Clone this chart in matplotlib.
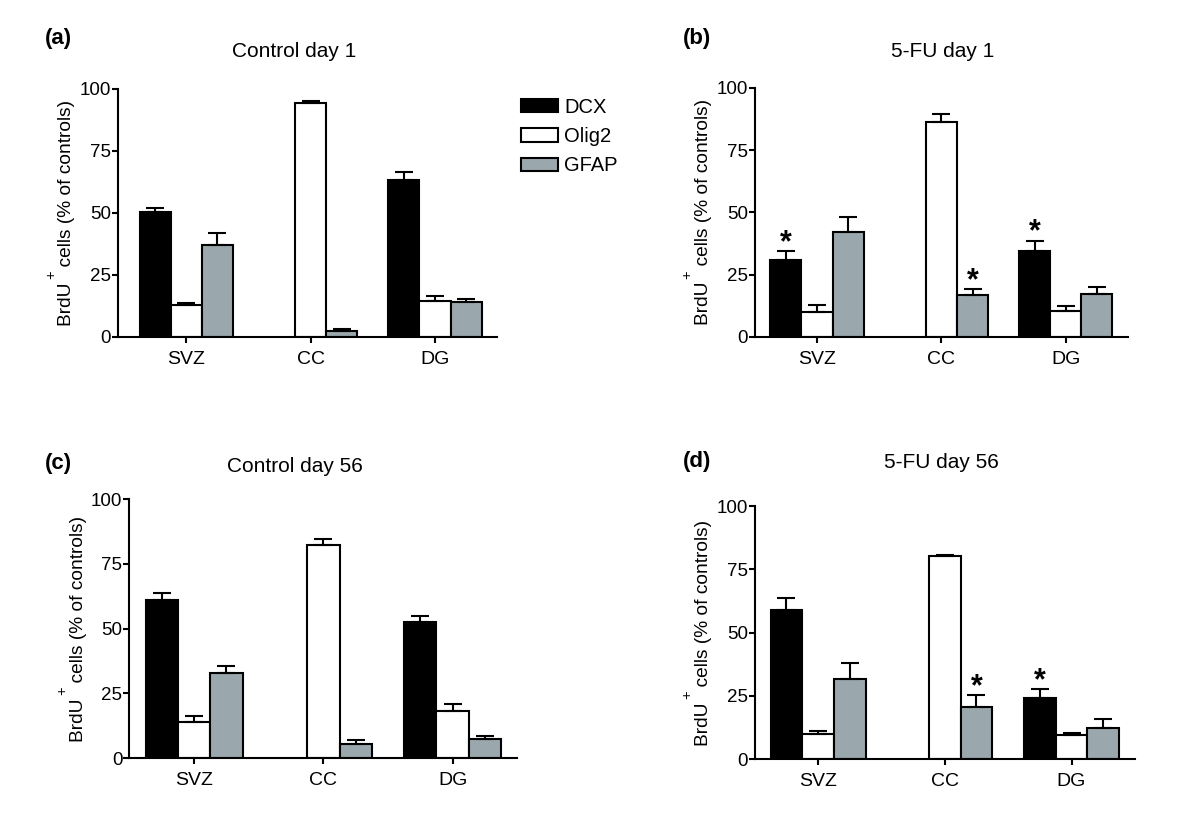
import numpy as np
import matplotlib
matplotlib.use("Agg")
import matplotlib.pyplot as plt
from matplotlib.patches import Patch

plt.rcParams["font.family"] = ["Liberation Sans", "DejaVu Sans"]

nan = np.nan

regions = ["SVZ", "CC", "DG"]
markers = ["DCX", "Olig2", "GFAP"]
colors = ["black", "white", "#9aa8ad"]

# (a) Control day 1
ctrl_d1_dcx = [50.4, nan, 63.3]
ctrl_d1_dcx_err = [1.7, nan, 3.0]
ctrl_d1_olig2 = [12.8, 94.1, 14.6]
ctrl_d1_olig2_err = [0.9, 1.0, 1.8]
ctrl_d1_gfap = [37.1, 2.4, 14.2]
ctrl_d1_gfap_err = [4.7, 0.6, 1.0]

# (b) 5-FU day 1
fu_d1_dcx = [30.8, nan, 34.3]
fu_d1_dcx_err = [3.7, nan, 4.3]
fu_d1_olig2 = [9.8, 86.3, 10.2]
fu_d1_olig2_err = [2.9, 3.1, 2.1]
fu_d1_gfap = [42.2, 16.7, 17.3]
fu_d1_gfap_err = [6.0, 2.6, 2.9]

# (c) Control day 56
ctrl_d56_dcx = [61.0, nan, 52.4]
ctrl_d56_dcx_err = [2.9, nan, 2.4]
ctrl_d56_olig2 = [13.9, 82.3, 18.1]
ctrl_d56_olig2_err = [2.2, 2.2, 2.6]
ctrl_d56_gfap = [33.0, 5.3, 7.4]
ctrl_d56_gfap_err = [2.6, 1.7, 1.2]

# (d) 5-FU day 56
fu_d56_dcx = [58.8, nan, 24.0]
fu_d56_dcx_err = [5.0, nan, 3.7]
fu_d56_olig2 = [9.9, 80.1, 9.5]
fu_d56_olig2_err = [1.0, 0.5, 0.6]
fu_d56_gfap = [31.5, 20.4, 12.1]
fu_d56_gfap_err = [6.3, 4.8, 3.6]

# significance stars: (marker index, region index)
stars_fu_d1 = [(0, 0), (2, 1), (0, 2)]
stars_fu_d56 = [(2, 1), (0, 2)]

panels = [
    dict(label="(a)", title="Control day 1", rect=[0.0983, 0.597, 0.316, 0.297],
         xleft=-0.55, title_xy=(0.2455, 0.9378), label_xy=(0.0375, 0.9545),
         vals=[ctrl_d1_dcx, ctrl_d1_olig2, ctrl_d1_gfap],
         errs=[ctrl_d1_dcx_err, ctrl_d1_olig2_err, ctrl_d1_gfap_err], stars=[]),
    dict(label="(b)", title="5-FU day 1", rect=[0.629, 0.597, 0.311, 0.298],
         xleft=-0.5, title_xy=(0.7854, 0.9378), label_xy=(0.569, 0.9545),
         vals=[fu_d1_dcx, fu_d1_olig2, fu_d1_gfap],
         errs=[fu_d1_dcx_err, fu_d1_olig2_err, fu_d1_gfap_err], stars=stars_fu_d1),
    dict(label="(c)", title="Control day 56", rect=[0.1078, 0.0933, 0.3233, 0.3098],
         xleft=-0.5, title_xy=(0.2455, 0.4414), label_xy=(0.0375, 0.446),
         vals=[ctrl_d56_dcx, ctrl_d56_olig2, ctrl_d56_gfap],
         errs=[ctrl_d56_dcx_err, ctrl_d56_olig2_err, ctrl_d56_gfap_err], stars=[]),
    dict(label="(d)", title="5-FU day 56", rect=[0.629, 0.0921, 0.3167, 0.3026],
         xleft=-0.5, title_xy=(0.7848, 0.4462), label_xy=(0.569, 0.4474),
         vals=[fu_d56_dcx, fu_d56_olig2, fu_d56_gfap],
         errs=[fu_d56_dcx_err, fu_d56_olig2_err, fu_d56_gfap_err], stars=stars_fu_d56),
]

fig = plt.figure(figsize=(12, 8.36), dpi=100)
lw = 1.5
width = 0.25
x = np.arange(len(regions))

for p in panels:
    ax = fig.add_axes(p["rect"])
    for i, (v, e) in enumerate(zip(p["vals"], p["errs"])):
        pos = x + (i - 1) * width
        ax.bar(pos, v, width=width, color=colors[i], edgecolor="black",
               linewidth=lw, zorder=2)
        e = np.array(e)
        ax.errorbar(pos, v, yerr=[np.zeros_like(e), e], fmt="none",
                    ecolor="black", elinewidth=lw, capsize=6.5, capthick=lw,
                    zorder=3)
    for mi, ri in p["stars"]:
        top = p["vals"][mi][ri] + p["errs"][mi][ri]
        ax.annotate("*", (x[ri] + (mi - 1) * width, top), xytext=(0, 0),
                    textcoords="offset points", ha="center", va="baseline",
                    fontsize=22, fontweight="bold")
    ax.set_xlim(p["xleft"], 2.5)
    ax.set_ylim(0, 100)
    ax.set_yticks([0, 25, 50, 75, 100])
    ax.set_xticks(x)
    ax.set_xticklabels(regions)
    for s in ["top", "right"]:
        ax.spines[s].set_visible(False)
    for s in ["left", "bottom"]:
        ax.spines[s].set_linewidth(lw)
    ax.tick_params(axis="both", width=lw, length=4, labelsize=14)
    ax.tick_params(axis="y", labelsize=13.5, pad=1)
    ax.tick_params(axis="x", pad=6)
    ylab = ax.set_ylabel("BrdU   cells (% of controls)", fontsize=13.8, labelpad=3)
    # raised "+" after BrdU
    ax.annotate("+", xy=(0, 0.225), xycoords=ylab, xytext=(-5.5, 0),
                textcoords="offset points", ha="center", va="center",
                rotation=90, fontsize=10.5)
    fig.text(*p["title_xy"], p["title"], ha="center", va="center", fontsize=15)
    fig.text(*p["label_xy"], p["label"], ha="left", va="center", fontsize=16,
             fontweight="bold")

handles = [Patch(facecolor=c, edgecolor="black", linewidth=lw) for c in colors]
fig.legend(handles, markers, loc="upper left", bbox_to_anchor=(521 / 1200, 1 - 98 / 836),
           frameon=False, fontsize=14.5, borderpad=0, borderaxespad=0,
           handlelength=1.85, handleheight=0.62, handletextpad=0.3,
           labelspacing=0.5)

fig.savefig("out.png", dpi=100)
